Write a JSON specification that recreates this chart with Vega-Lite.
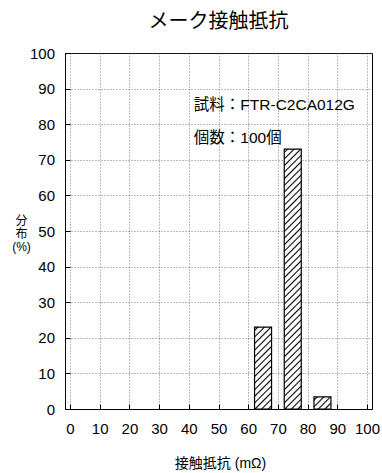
{
  "$schema": "https://vega.github.io/schema/vega-lite/v6.json",
  "width": 307,
  "height": 356,
  "autosize": "none",
  "padding": {"left": 65, "top": 53, "right": 10, "bottom": 64},
  "background": "#ffffff",
  "title": {
    "text": "メーク接触抵抗",
    "font": "Noto Sans CJK JP",
    "fontSize": 20,
    "fontWeight": "normal",
    "color": "#000000",
    "anchor": "middle",
    "frame": "group",
    "baseline": "middle",
    "offset": 4
  },
  "data": {
    "values": [
      {"resistance": 65, "percent": 23},
      {"resistance": 75, "percent": 73},
      {"resistance": 85, "percent": 3.4}
    ]
  },
  "config": {
    "view": {"stroke": "#000000", "strokeWidth": 1},
    "axis": {
      "labelFont": "Liberation Sans",
      "labelFontSize": 15,
      "labelColor": "#000000",
      "domainColor": "#000000",
      "tickColor": "#000000",
      "tickSize": -5,
      "tickCount": 11,
      "grid": true,
      "gridColor": "#555555",
      "gridDash": [1, 2],
      "gridWidth": 0.8,
      "titleFont": "Liberation Sans, Noto Sans CJK JP",
      "titleFontWeight": "normal",
      "titleColor": "#000000"
    },
    "axisX": {"labelPadding": 17.5, "tickCount": 11, "values": [0, 10, 20, 30, 40, 50, 60, 70, 80, 90, 100]},
    "axisY": {"labelPadding": 15.5, "tickCount": 11, "values": [0, 10, 20, 30, 40, 50, 60, 70, 80, 90, 100]}
  },
  "layer": [
    {
      "encoding": {
        "x": {
          "field": "resistance",
          "type": "quantitative",
          "scale": {"domain": [0, 100], "nice": false},
          "axis": {
            "values": [0, 10, 20, 30, 40, 50, 60, 70, 80, 90, 100],
            "tickCount": 11,
            "labelPadding": 17.5,
            "title": "接触抵抗 (mΩ)",
            "titleFontSize": 14,
            "titleX": 155,
            "titleY": 54,
            "titleAlign": "center",
            "titleBaseline": "middle"
          }
        },
        "y": {
          "field": "percent",
          "type": "quantitative",
          "scale": {"domain": [0, 100], "nice": false},
          "axis": {
            "values": [0, 10, 20, 30, 40, 50, 60, 70, 80, 90, 100],
            "tickCount": 11,
            "labelPadding": 15.5,
            "title": ["分", "布", "(%)"],
            "titleFontSize": 12,
            "titleAngle": 0,
            "titleX": -44,
            "titleY": 167,
            "titleAlign": "center",
            "titleBaseline": "middle",
            "titleLineHeight": 13
          }
        }
      },
      "layer": [
        {
          "transform": [{"filter": "datum.resistance == 65"}],
          "mark": {
            "type": "bar", "size": 17, "stroke": "#000000", "strokeWidth": 1.2,
            "fill": {
              "gradient": "linear", "x1": 0, "y1": 0, "x2": 0.24037, "y2": 1.15774,
              "stops": [
                {"offset": 0.0181, "color": "#ffffff"}, {"offset": 0.0333, "color": "#000000"}, {"offset": 0.0485, "color": "#ffffff"},
                {"offset": 0.0848, "color": "#ffffff"}, {"offset": 0.1, "color": "#000000"}, {"offset": 0.1152, "color": "#ffffff"},
                {"offset": 0.1515, "color": "#ffffff"}, {"offset": 0.1667, "color": "#000000"}, {"offset": 0.1819, "color": "#ffffff"},
                {"offset": 0.2181, "color": "#ffffff"}, {"offset": 0.2333, "color": "#000000"}, {"offset": 0.2485, "color": "#ffffff"},
                {"offset": 0.2848, "color": "#ffffff"}, {"offset": 0.3, "color": "#000000"}, {"offset": 0.3152, "color": "#ffffff"},
                {"offset": 0.3515, "color": "#ffffff"}, {"offset": 0.3667, "color": "#000000"}, {"offset": 0.3819, "color": "#ffffff"},
                {"offset": 0.4181, "color": "#ffffff"}, {"offset": 0.4333, "color": "#000000"}, {"offset": 0.4485, "color": "#ffffff"},
                {"offset": 0.4848, "color": "#ffffff"}, {"offset": 0.5, "color": "#000000"}, {"offset": 0.5152, "color": "#ffffff"},
                {"offset": 0.5515, "color": "#ffffff"}, {"offset": 0.5667, "color": "#000000"}, {"offset": 0.5819, "color": "#ffffff"},
                {"offset": 0.6181, "color": "#ffffff"}, {"offset": 0.6333, "color": "#000000"}, {"offset": 0.6485, "color": "#ffffff"},
                {"offset": 0.6848, "color": "#ffffff"}, {"offset": 0.7, "color": "#000000"}, {"offset": 0.7152, "color": "#ffffff"},
                {"offset": 0.7515, "color": "#ffffff"}, {"offset": 0.7667, "color": "#000000"}, {"offset": 0.7819, "color": "#ffffff"},
                {"offset": 0.8181, "color": "#ffffff"}, {"offset": 0.8333, "color": "#000000"}, {"offset": 0.8485, "color": "#ffffff"},
                {"offset": 0.8848, "color": "#ffffff"}, {"offset": 0.9, "color": "#000000"}, {"offset": 0.9152, "color": "#ffffff"},
                {"offset": 0.9515, "color": "#ffffff"}, {"offset": 0.9667, "color": "#000000"}, {"offset": 0.9819, "color": "#ffffff"}
              ]
            }
          }
        },
        {
          "transform": [{"filter": "datum.resistance == 75"}],
          "mark": {
            "type": "bar", "size": 17, "stroke": "#000000", "strokeWidth": 1.2,
            "fill": {
              "gradient": "linear", "x1": 0, "y1": 0, "x2": 0.069398, "y2": 1.06089,
              "stops": [
                {"offset": 0.0065, "color": "#ffffff"}, {"offset": 0.0119, "color": "#000000"}, {"offset": 0.0173, "color": "#ffffff"},
                {"offset": 0.0303, "color": "#ffffff"}, {"offset": 0.0357, "color": "#000000"}, {"offset": 0.0411, "color": "#ffffff"},
                {"offset": 0.0541, "color": "#ffffff"}, {"offset": 0.0595, "color": "#000000"}, {"offset": 0.0649, "color": "#ffffff"},
                {"offset": 0.0779, "color": "#ffffff"}, {"offset": 0.0833, "color": "#000000"}, {"offset": 0.0887, "color": "#ffffff"},
                {"offset": 0.1017, "color": "#ffffff"}, {"offset": 0.1071, "color": "#000000"}, {"offset": 0.1125, "color": "#ffffff"},
                {"offset": 0.1256, "color": "#ffffff"}, {"offset": 0.131, "color": "#000000"}, {"offset": 0.1364, "color": "#ffffff"},
                {"offset": 0.1494, "color": "#ffffff"}, {"offset": 0.1548, "color": "#000000"}, {"offset": 0.1602, "color": "#ffffff"},
                {"offset": 0.1732, "color": "#ffffff"}, {"offset": 0.1786, "color": "#000000"}, {"offset": 0.184, "color": "#ffffff"},
                {"offset": 0.197, "color": "#ffffff"}, {"offset": 0.2024, "color": "#000000"}, {"offset": 0.2078, "color": "#ffffff"},
                {"offset": 0.2208, "color": "#ffffff"}, {"offset": 0.2262, "color": "#000000"}, {"offset": 0.2316, "color": "#ffffff"},
                {"offset": 0.2446, "color": "#ffffff"}, {"offset": 0.25, "color": "#000000"}, {"offset": 0.2554, "color": "#ffffff"},
                {"offset": 0.2684, "color": "#ffffff"}, {"offset": 0.2738, "color": "#000000"}, {"offset": 0.2792, "color": "#ffffff"},
                {"offset": 0.2922, "color": "#ffffff"}, {"offset": 0.2976, "color": "#000000"}, {"offset": 0.303, "color": "#ffffff"},
                {"offset": 0.316, "color": "#ffffff"}, {"offset": 0.3214, "color": "#000000"}, {"offset": 0.3268, "color": "#ffffff"},
                {"offset": 0.3398, "color": "#ffffff"}, {"offset": 0.3452, "color": "#000000"}, {"offset": 0.3506, "color": "#ffffff"},
                {"offset": 0.3636, "color": "#ffffff"}, {"offset": 0.369, "color": "#000000"}, {"offset": 0.3744, "color": "#ffffff"},
                {"offset": 0.3875, "color": "#ffffff"}, {"offset": 0.3929, "color": "#000000"}, {"offset": 0.3983, "color": "#ffffff"},
                {"offset": 0.4113, "color": "#ffffff"}, {"offset": 0.4167, "color": "#000000"}, {"offset": 0.4221, "color": "#ffffff"},
                {"offset": 0.4351, "color": "#ffffff"}, {"offset": 0.4405, "color": "#000000"}, {"offset": 0.4459, "color": "#ffffff"},
                {"offset": 0.4589, "color": "#ffffff"}, {"offset": 0.4643, "color": "#000000"}, {"offset": 0.4697, "color": "#ffffff"},
                {"offset": 0.4827, "color": "#ffffff"}, {"offset": 0.4881, "color": "#000000"}, {"offset": 0.4935, "color": "#ffffff"},
                {"offset": 0.5065, "color": "#ffffff"}, {"offset": 0.5119, "color": "#000000"}, {"offset": 0.5173, "color": "#ffffff"},
                {"offset": 0.5303, "color": "#ffffff"}, {"offset": 0.5357, "color": "#000000"}, {"offset": 0.5411, "color": "#ffffff"},
                {"offset": 0.5541, "color": "#ffffff"}, {"offset": 0.5595, "color": "#000000"}, {"offset": 0.5649, "color": "#ffffff"},
                {"offset": 0.5779, "color": "#ffffff"}, {"offset": 0.5833, "color": "#000000"}, {"offset": 0.5887, "color": "#ffffff"},
                {"offset": 0.6017, "color": "#ffffff"}, {"offset": 0.6071, "color": "#000000"}, {"offset": 0.6125, "color": "#ffffff"},
                {"offset": 0.6256, "color": "#ffffff"}, {"offset": 0.631, "color": "#000000"}, {"offset": 0.6364, "color": "#ffffff"},
                {"offset": 0.6494, "color": "#ffffff"}, {"offset": 0.6548, "color": "#000000"}, {"offset": 0.6602, "color": "#ffffff"},
                {"offset": 0.6732, "color": "#ffffff"}, {"offset": 0.6786, "color": "#000000"}, {"offset": 0.684, "color": "#ffffff"},
                {"offset": 0.697, "color": "#ffffff"}, {"offset": 0.7024, "color": "#000000"}, {"offset": 0.7078, "color": "#ffffff"},
                {"offset": 0.7208, "color": "#ffffff"}, {"offset": 0.7262, "color": "#000000"}, {"offset": 0.7316, "color": "#ffffff"},
                {"offset": 0.7446, "color": "#ffffff"}, {"offset": 0.75, "color": "#000000"}, {"offset": 0.7554, "color": "#ffffff"},
                {"offset": 0.7684, "color": "#ffffff"}, {"offset": 0.7738, "color": "#000000"}, {"offset": 0.7792, "color": "#ffffff"},
                {"offset": 0.7922, "color": "#ffffff"}, {"offset": 0.7976, "color": "#000000"}, {"offset": 0.803, "color": "#ffffff"},
                {"offset": 0.816, "color": "#ffffff"}, {"offset": 0.8214, "color": "#000000"}, {"offset": 0.8268, "color": "#ffffff"},
                {"offset": 0.8398, "color": "#ffffff"}, {"offset": 0.8452, "color": "#000000"}, {"offset": 0.8506, "color": "#ffffff"},
                {"offset": 0.8636, "color": "#ffffff"}, {"offset": 0.869, "color": "#000000"}, {"offset": 0.8744, "color": "#ffffff"},
                {"offset": 0.8875, "color": "#ffffff"}, {"offset": 0.8929, "color": "#000000"}, {"offset": 0.8983, "color": "#ffffff"},
                {"offset": 0.9113, "color": "#ffffff"}, {"offset": 0.9167, "color": "#000000"}, {"offset": 0.9221, "color": "#ffffff"},
                {"offset": 0.9351, "color": "#ffffff"}, {"offset": 0.9405, "color": "#000000"}, {"offset": 0.9459, "color": "#ffffff"},
                {"offset": 0.9589, "color": "#ffffff"}, {"offset": 0.9643, "color": "#000000"}, {"offset": 0.9697, "color": "#ffffff"},
                {"offset": 0.9827, "color": "#ffffff"}, {"offset": 0.9881, "color": "#000000"}, {"offset": 0.9935, "color": "#ffffff"}
              ]
            }
          }
        },
        {
          "transform": [{"filter": "datum.resistance == 85"}],
          "mark": {
            "type": "bar", "size": 17, "stroke": "#000000", "strokeWidth": 1.2,
            "fill": {
              "gradient": "linear", "x1": 0, "y1": 0, "x2": 1.13608, "y2": 0.80889,
              "stops": [
                {"offset": 0.0615, "color": "#ffffff"}, {"offset": 0.113, "color": "#000000"}, {"offset": 0.1645, "color": "#ffffff"},
                {"offset": 0.2885, "color": "#ffffff"}, {"offset": 0.34, "color": "#000000"}, {"offset": 0.3915, "color": "#ffffff"},
                {"offset": 0.5155, "color": "#ffffff"}, {"offset": 0.567, "color": "#000000"}, {"offset": 0.6185, "color": "#ffffff"},
                {"offset": 0.7425, "color": "#ffffff"}, {"offset": 0.794, "color": "#000000"}, {"offset": 0.8455, "color": "#ffffff"}
              ]
            }
          }
        }
      ]
    },
    {
      "transform": [{"aggregate": [{"op": "count", "as": "n"}]}],
      "mark": {"type": "text", "align": "left", "baseline": "middle", "font": "Liberation Sans, Noto Sans CJK JP", "fontSize": 15.5, "fill": "#000000"},
      "encoding": {
        "x": {"datum": 41.7, "type": "quantitative"},
        "y": {"datum": 85.4, "type": "quantitative"},
        "text": {"value": "試料：FTR-C2CA012G"}
      }
    },
    {
      "transform": [{"aggregate": [{"op": "count", "as": "n"}]}],
      "mark": {"type": "text", "align": "left", "baseline": "middle", "font": "Liberation Sans, Noto Sans CJK JP", "fontSize": 15.5, "fill": "#000000"},
      "encoding": {
        "x": {"datum": 41.7, "type": "quantitative"},
        "y": {"datum": 76.1, "type": "quantitative"},
        "text": {"value": "個数：100個"}
      }
    }
  ]
}
